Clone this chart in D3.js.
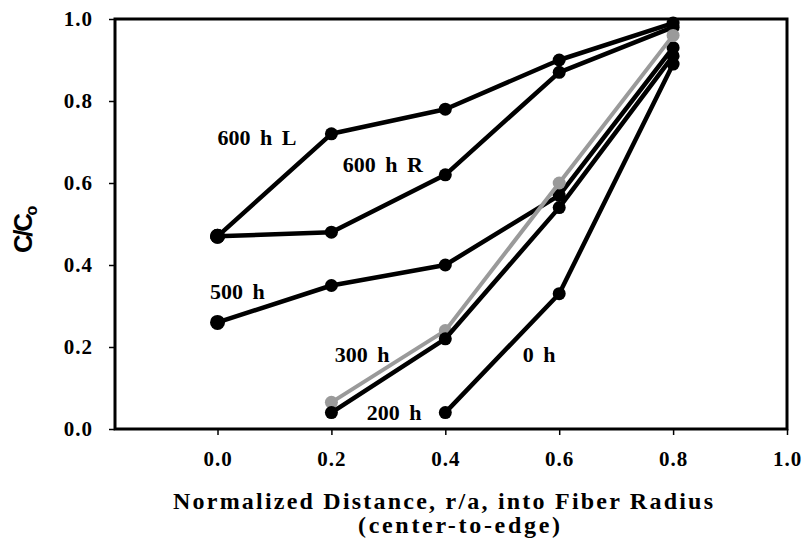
<!DOCTYPE html>
<html>
<head>
<meta charset="utf-8">
<script src="https://cdn.jsdelivr.net/npm/d3@7"></script>
<style>
  body { margin: 0; background: #fff; }
  svg { display: block; }
  .tick text { font-family: "Liberation Serif", "Times New Roman", serif; font-weight: bold; font-size: 21px; letter-spacing: 1px; fill: #000; }
  .lbl { font-family: "Liberation Serif", "Times New Roman", serif; font-weight: bold; font-size: 22px; word-spacing: 4px; }
</style>
</head>
<body>
<div id="vis-container"></div>
<script>
//width and height
var w = 805;
var h = 544;

// data
var distances = [0.0, 0.2, 0.4, 0.6, 0.8];
var xTicks = [0.0, 0.2, 0.4, 0.6, 0.8, 1.0];
var yTicks = [0.0, 0.2, 0.4, 0.6, 0.8, 1.0];

var h600L = [0.47, 0.72, 0.78, 0.90, 0.99];
var h600R = [0.47, 0.48, 0.62, 0.87, 0.98];
var h500 = [0.26, 0.35, 0.40, 0.57, 0.93];
var h300 = [null, 0.065, 0.24, 0.60, 0.96];
var h200 = [null, 0.04, 0.22, 0.54, 0.91];
var h0 = [null, null, 0.04, 0.33, 0.89];

var seriesNames = ["600 h L", "600 h R", "500 h", "300 h", "200 h", "0 h"];
var seriesValues = [h600L, h600R, h500, h300, h200, h0];

// label anchors [x, y] in data units (left edge, baseline)
var labelPos = [[0.0, 0.693], [0.22, 0.627], [-0.013, 0.317], [0.206, 0.163], [0.262, 0.022], [0.536, 0.163]];

var xScale = d3.scaleLinear().domain([-0.18, 1.0]).range([115, 787]);
var yScale = d3.scaleLinear().domain([0, 1]).range([429, 19]);

var svg = d3.select("#vis-container")
    .append("svg")
    .attr("width", w)
    .attr("height", h);

// frame
svg.append("rect")
    .attr("x", xScale(-0.18))
    .attr("y", yScale(1))
    .attr("width", xScale(1) - xScale(-0.18))
    .attr("height", yScale(0) - yScale(1))
    .attr("fill", "none")
    .attr("stroke", "#000")
    .attr("stroke-width", 3);

//x axis
var xAxis = d3.axisBottom(xScale).tickValues(xTicks).tickFormat(d3.format(".1f")).tickSize(6).tickPadding(16);
var gx = svg.append("g")
    .attr("transform", "translate(0," + yScale(0) + ")")
    .call(xAxis);
gx.select(".domain").remove();
gx.selectAll("line").attr("stroke", "#000").attr("stroke-width", 1.5);

//y axis
var yAxis = d3.axisLeft(yScale).tickValues(yTicks).tickFormat(d3.format(".1f")).tickSize(6).tickPadding(16);
var gy = svg.append("g")
    .attr("transform", "translate(" + xScale(-0.18) + ",0)")
    .call(yAxis);
gy.select(".domain").remove();
gy.selectAll("line").attr("stroke", "#000").attr("stroke-width", 1.5);

// lines
var line = d3.line()
    .defined(function (d) { return d[1] != null; })
    .x(function (d) { return xScale(d[0]); })
    .y(function (d) { return yScale(d[1]); });

seriesValues.forEach(function (vals, i) {
    var pts = distances.map(function (x, j) { return [x, vals[j]]; });
    var grey = seriesNames[i] == "300 h";
    svg.append("path")
        .datum(pts)
        .attr("d", line)
        .attr("fill", "none")
        .attr("stroke", grey ? "#9a9a9a" : "#000")
        .attr("stroke-width", grey ? 4 : 4.5)
        .attr("stroke-linejoin", "round");
    svg.selectAll(".dot" + i)
        .data(pts.filter(function (d) { return d[1] != null; }))
        .enter()
        .append("circle")
        .attr("cx", function (d) { return xScale(d[0]); })
        .attr("cy", function (d) { return yScale(d[1]); })
        .attr("r", function (d) { return d[0] == 0 ? 7.5 : 6.5; })
        .attr("fill", grey ? "#9a9a9a" : "#000");
});

// series labels
svg.selectAll(".lbl")
    .data(seriesNames)
    .enter()
    .append("text")
    .attr("class", "lbl")
    .attr("x", function (d, i) { return xScale(labelPos[i][0]); })
    .attr("y", function (d, i) { return yScale(labelPos[i][1]); })
    .text(function (d) { return d; });

// axis titles
svg.append("text")
    .attr("x", 443)
    .attr("y", 509)
    .attr("text-anchor", "middle")
    .attr("textLength", 540)
    .style("font-family", "'Liberation Serif', serif")
    .style("font-weight", "bold")
    .style("font-size", "24px")
    .text("Normalized Distance, r/a, into Fiber Radius");

svg.append("text")
    .attr("x", 459)
    .attr("y", 533)
    .attr("text-anchor", "middle")
    .attr("textLength", 202)
    .style("font-family", "'Liberation Serif', serif")
    .style("font-weight", "bold")
    .style("font-size", "24px")
    .text("(center-to-edge)");

var yl = svg.append("text")
    .attr("transform", "translate(32,253) rotate(-90)")
    .style("font-family", "'Liberation Sans', Arial, sans-serif")
    .style("font-weight", "bold")
    .style("font-size", "26px");
yl.append("tspan").attr("textLength", 40).text("C/C");
yl.append("tspan").attr("dy", 5).style("font-size", "16px").text("o");
</script>
</body>
</html>
